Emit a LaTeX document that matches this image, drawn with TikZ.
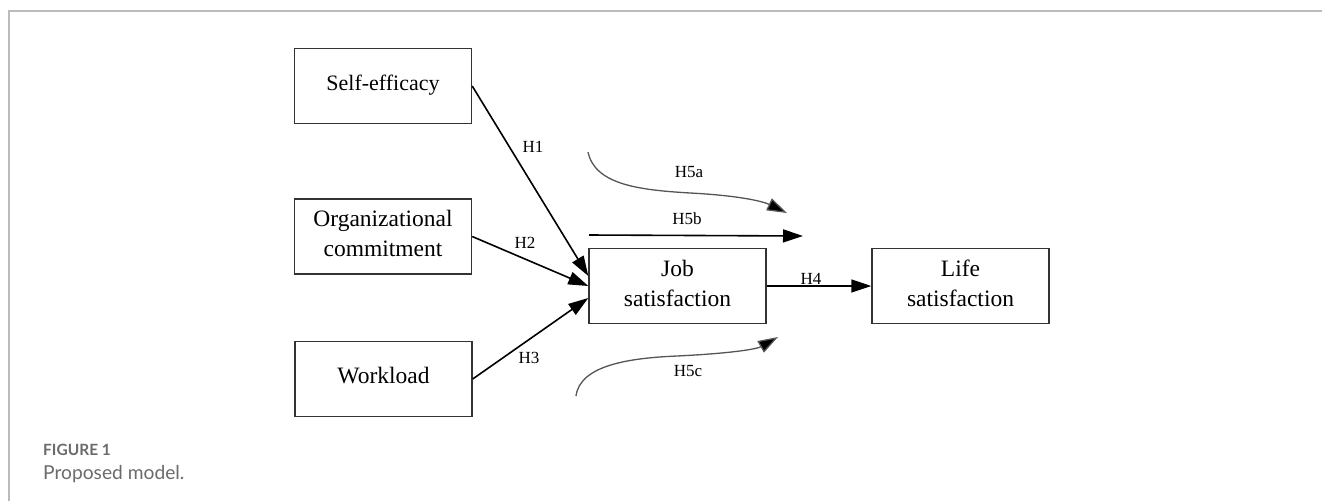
\documentclass[tikz,border=0pt]{standalone}
\usepackage{fontspec}
\setmainfont{Liberation Serif}
\newfontfamily\capfont{Lato}
\usetikzlibrary{arrows.meta}
\definecolor{framegray}{HTML}{BBBBBB}
\definecolor{capgray}{HTML}{6B6B6B}
\definecolor{boxline}{HTML}{333333}
\definecolor{curvegray}{HTML}{555555}
\tikzset{
  varbox/.style={draw=boxline, line width=1.4pt, minimum width=177pt, minimum height=75pt,
    align=center, inner sep=0pt, font=\fontsize{23.5}{30}\selectfont},
  oneline/.style={text height=16pt, text depth=7pt},
  twoline/.style={text height=46pt, text depth=6pt},
  patharrow/.style={draw=black, line width=1.6pt, -{Triangle[length=20pt,width=13pt]}},
  modarrow/.style={draw=curvegray, line width=1.3pt, -{Triangle[length=20pt,width=13pt,fill=black]}},
  hlabel/.style={font=\fontsize{17}{19}\selectfont, inner sep=0pt}
}
\begin{document}
\begin{tikzpicture}[x=1pt,y=-1pt]
\useasboundingbox (0,0) rectangle (1322,501);
% frame
\coordinate (ftl) at (9,11);
\coordinate (ftr) at (1322,11);
\coordinate (fbl) at (9,501);
\draw[framegray, line width=1.5pt] (ftr) -- (ftl) -- (fbl);
% caption
\node[anchor=base west, inner sep=0pt, text=capgray, font=\capfont\bfseries\fontsize{15.5}{17}\selectfont] (figlab) at (43,455) {FIGURE 1};
\node[anchor=base west, inner sep=0pt, text=capgray, font=\capfont\fontsize{19.2}{21}\selectfont] (figcap) at (43,479) {Proposed model.};
% boxes
\node[varbox, oneline, font=\fontsize{22}{30}\selectfont] (se) at (383,86) {Self-efficacy};
\node[varbox, twoline] (oc) at (383,236.5) {Organizational\\commitment};
\node[varbox, oneline] (wl) at (383.5,379) {Workload};
\node[varbox, twoline] (js) at (677.5,286) {Job\\satisfaction};
\node[varbox, twoline] (ls) at (960.5,286) {Life\\satisfaction};
% paths
\draw[patharrow] (se.east) -- ([yshift=10pt]js.west);
\draw[patharrow] (oc.east) -- (js.west);
\draw[patharrow] (wl.east) -- ([yshift=-12pt]js.west);
\draw[patharrow] (js.east) -- (ls.west);
% moderation arrows
\coordinate (h5as) at (588,152);
\coordinate (h5ae) at (787,213);
\coordinate (h5bs) at (589,235);
\coordinate (h5be) at (803,236);
\coordinate (h5cs) at (576,396);
\coordinate (h5ce) at (778,337);
\draw[modarrow] (h5as) .. controls (595,185) and (640,190) .. (690,193) .. controls (730,195) and (760,200) .. (h5ae);
\draw[patharrow] (h5bs) -- (h5be);
\draw[modarrow] (h5cs) .. controls (580,365) and (630,358) .. (677,356) .. controls (720,354) and (755,350) .. (h5ce);
% labels
\node[hlabel] (l1) at (533,147) {H1};
\node[hlabel] (l2) at (525,243) {H2};
\node[hlabel] (l3) at (529,358) {H3};
\node[hlabel] (l4) at (811,279) {H4};
\node[hlabel] (l5a) at (689,172) {H5a};
\node[hlabel] (l5b) at (687,219) {H5b};
\node[hlabel] (l5c) at (688,371) {H5c};
\end{tikzpicture}
\end{document}
